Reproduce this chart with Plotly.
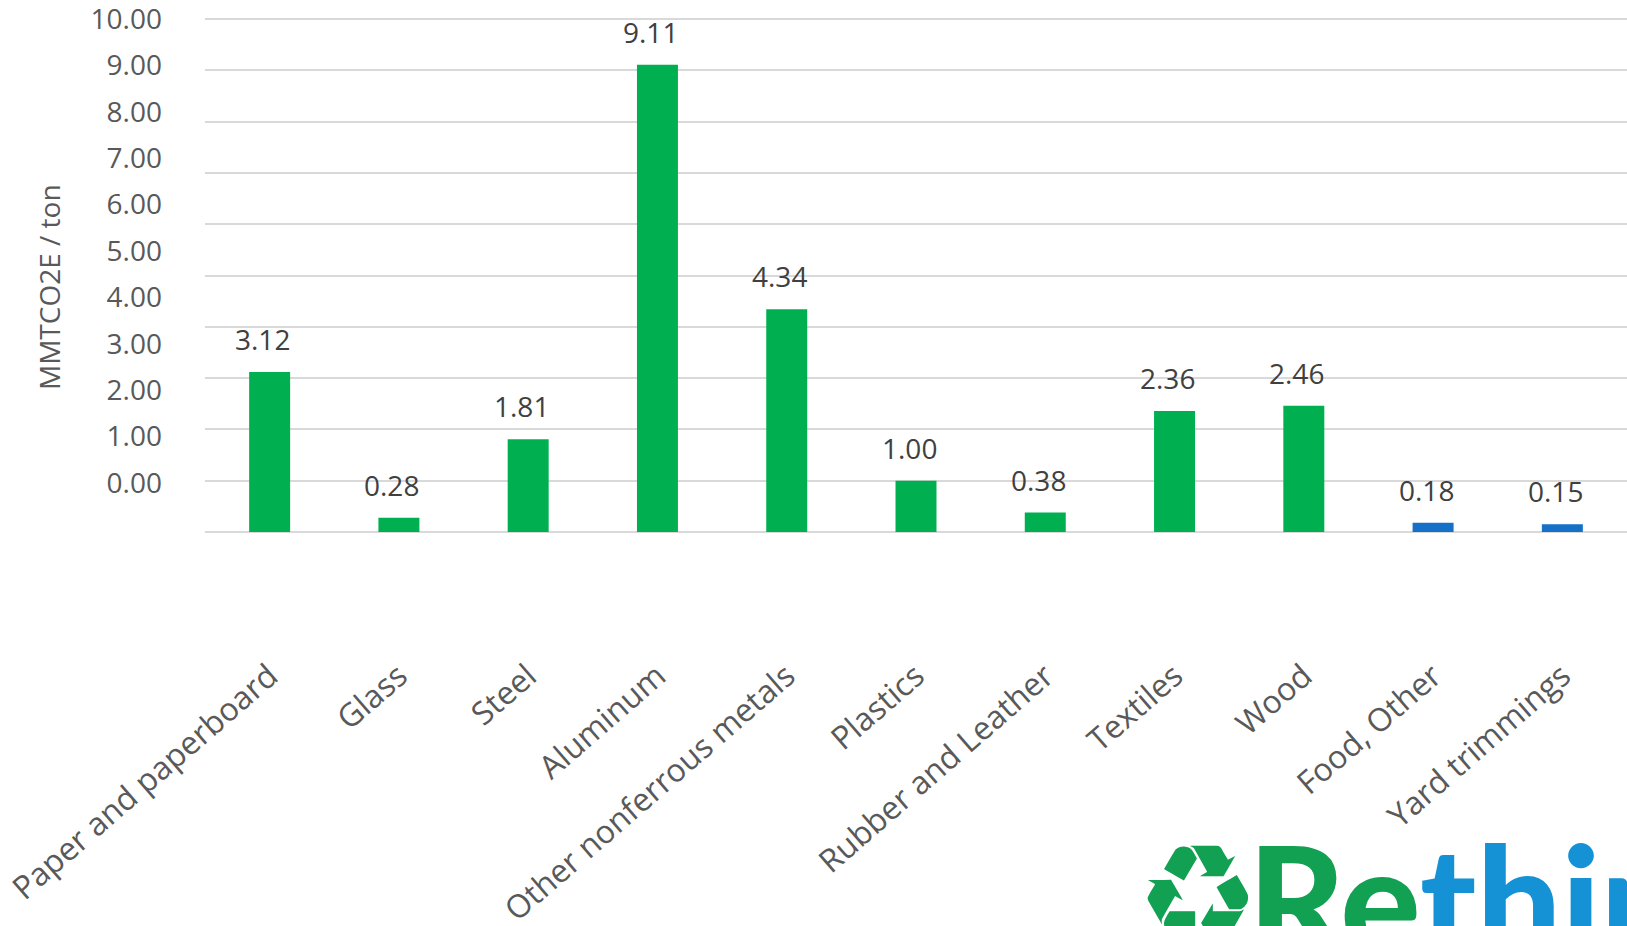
import plotly.graph_objects as go

categories = ["Paper and paperboard", "Glass", "Steel", "Aluminum",
              "Other nonferrous metals", "Plastics", "Rubber and Leather",
              "Textiles", "Wood", "Food, Other", "Yard trimmings"]
values = [3.12, 0.28, 1.81, 9.11, 4.34, 1.00, 0.38, 2.36, 2.46, 0.18, 0.15]
groups = ["recycle"] * 9 + ["compost"] * 2
axis_labels = [0, 1, 2, 3, 4, 5, 6, 7, 8, 9, 10]

GREEN = "#00B050"
BLUE = "#1570C8"
color_map = {"recycle": GREEN, "compost": BLUE}
colors = [color_map[g] for g in groups]

FONT = "Open Sans"
GRAY = "#595959"
DARK = "#404040"

W, H = 1627, 926
PLOT_L, PLOT_T, PLOT_B = 205, 2, 532
PX_PER_UNIT = 51.3                      # gridline spacing
Y_TOP = (PLOT_B - PLOT_T) / PX_PER_UNIT  # primary axis top value
# tick-label axis: label "0.00" at 483 px, spacing 46.4 px
LBL0, LBL_STEP = 483, 46.4
Y2_RANGE = [(LBL0 - PLOT_B) / LBL_STEP, (LBL0 - PLOT_T) / LBL_STEP]


def px_to_paper_x(px):
    return (px - PLOT_L) / (W - PLOT_L)


def px_to_paper_y(py):
    return (PLOT_B - py) / (PLOT_B - PLOT_T)


fig = go.Figure()
fig.add_trace(go.Bar(x=categories, y=values, marker=dict(color=colors, line=dict(width=0)),
                     showlegend=False, hoverinfo="x+y"))
# helper trace so the label axis is drawn
fig.add_trace(go.Scatter(x=[categories[0]], y=[None], yaxis="y2", mode="lines",
                         showlegend=False, hoverinfo="skip"))

for cat, v in zip(categories, values):
    fig.add_annotation(x=cat, y=v, text=f"{v:.2f}", showarrow=False,
                       yanchor="middle", yshift=33, xshift=-7,
                       font=dict(family=FONT, size=28, color=DARK))

# y-axis title
fig.add_annotation(xref="paper", yref="paper", x=px_to_paper_x(49), y=px_to_paper_y(287),
                   text="MMTCO2E / ton", textangle=-90, showarrow=False,
                   xanchor="center", yanchor="middle",
                   font=dict(family=FONT, size=28, color=GRAY))

# logo (cut off at bottom right)
fig.add_annotation(xref="paper", yref="paper", x=px_to_paper_x(1198), y=px_to_paper_y(896),
                   text="♻", showarrow=False, xanchor="center", yanchor="middle",
                   font=dict(family="DejaVu Sans", size=138, color="#12A052"))
fig.add_annotation(xref="paper", yref="paper", x=px_to_paper_x(1246), y=px_to_paper_y(898),
                   text="<span style='color:#12A052'>Re</span><span style='color:#1592D6'>think</span>",
                   showarrow=False, xanchor="left", yanchor="middle",
                   font=dict(family="Lato", size=150, weight=900))

fig.update_layout(
    width=W, height=H,
    margin=dict(l=PLOT_L, r=0, t=PLOT_T, b=H - PLOT_B),
    paper_bgcolor="white", plot_bgcolor="white",
    bargap=0.683,
    font=dict(family=FONT, color=GRAY),
    xaxis=dict(
        range=[-0.5, len(categories) - 0.5],
        tickangle=-41, tickfont=dict(family=FONT, size=32, color=GRAY),
        showgrid=False, zeroline=False, showline=False, ticks="",
        ticklabelstandoff=118, automargin=False, ticklabeloverflow="allow",
    ),
    yaxis=dict(
        range=[0, Y_TOP], dtick=1, tick0=0, showticklabels=False,
        showgrid=True, gridcolor="#D9D9D9", gridwidth=1.5,
        zeroline=True, zerolinecolor="#D9D9D9", zerolinewidth=1.5,
        ticks="", automargin=False, fixedrange=True,
    ),
    yaxis2=dict(
        overlaying="y", side="left", range=Y2_RANGE,
        tickmode="array", tickvals=axis_labels,
        ticktext=[f"{v:.2f}" for v in axis_labels],
        tickfont=dict(family=FONT, size=28, color=GRAY),
        showgrid=False, zeroline=False, ticks="", ticklabelstandoff=42,
        automargin=False, showline=False, ticklabeloverflow="allow",
    ),
)

fig.write_html("out.html")
